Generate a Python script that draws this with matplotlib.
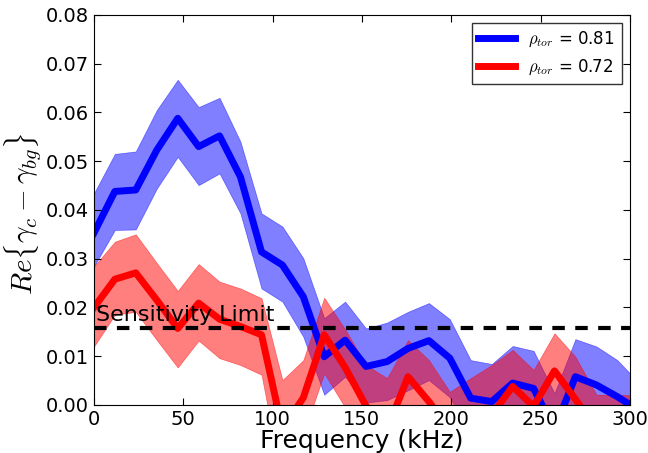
import matplotlib
matplotlib.use('Agg')
import matplotlib.pyplot as plt

plt.rcParams['mathtext.fontset'] = 'cm'

freq = [0.0, 11.7, 23.4, 35.2, 46.9, 58.6, 70.3, 82.0, 93.8, 105.5, 117.2, 128.9, 140.6,
        152.3, 164.1, 175.8, 187.5, 199.2, 210.9, 222.7, 234.4, 246.1, 257.8, 269.5,
        281.3, 293.0, 304.7]

blue_mid = [0.0353, 0.0438, 0.0441, 0.0523, 0.0588, 0.0530, 0.0552, 0.0468, 0.0314, 0.0287,
            0.0222, 0.0099, 0.0133, 0.0079, 0.0089, 0.0116, 0.0132, 0.0096, 0.0014, 0.0007,
            0.0045, 0.0034, -0.0050, 0.0058, 0.0041, 0.0017, -0.0010]
blue_hi = [0.0434, 0.0515, 0.0520, 0.0605, 0.0667, 0.0611, 0.0630, 0.0540, 0.0393, 0.0366,
           0.0301, 0.0178, 0.0212, 0.0157, 0.0169, 0.0191, 0.0209, 0.0176, 0.0092, 0.0084,
           0.0121, 0.0111, 0.0024, 0.0135, 0.0120, 0.0092, 0.0047]
blue_lo = [0.0284, 0.0359, 0.0360, 0.0444, 0.0509, 0.0451, 0.0475, 0.0393, 0.0239, 0.0212,
           0.0140, 0.0021, 0.0058, 0.0005, 0.0010, 0.0030, 0.0051, 0.0016, -0.0060, -0.0070,
           -0.0030, -0.0040, -0.0120, -0.0020, -0.0040, -0.0060, -0.0080]

red_mid = [0.0200, 0.0258, 0.0271, 0.0215, 0.0157, 0.0209, 0.0176, 0.0161, 0.0144, -0.0050,
           0.0015, 0.0144, 0.0077, -0.0002, -0.0050, 0.0058, 0.0007, -0.0050, -0.0080, -0.0020,
           0.0038, -0.0003, 0.0070, 0.0012, -0.0050, -0.0060, -0.0060]
red_hi = [0.0284, 0.0335, 0.0350, 0.0291, 0.0234, 0.0289, 0.0253, 0.0239, 0.0219, 0.0051,
          0.0092, 0.0220, 0.0155, 0.0082, 0.0055, 0.0133, 0.0092, 0.0027, 0.0055, 0.0082,
          0.0113, 0.0072, 0.0147, 0.0099, 0.0021, 0.0021, 0.0020]
red_lo = [0.0120, 0.0185, 0.0191, 0.0133, 0.0077, 0.0132, 0.0096, 0.0082, 0.0062, -0.0160,
          -0.0060, 0.0065, -0.0005, -0.0070, -0.0140, -0.0020, -0.0020, -0.0080, -0.0100,
          -0.0100, -0.0080, -0.0100, -0.0050, -0.0080, -0.0120, -0.0120, -0.0120]

sens_limit = 0.0157

fig = plt.figure(figsize=(6.48, 4.53), dpi=100)
ax = fig.add_axes([0.145, 0.106, 0.827, 0.861])

ax.fill_between(freq, blue_lo, blue_hi, color='blue', alpha=0.5, linewidth=0.5)
ax.fill_between(freq, red_lo, red_hi, color='red', alpha=0.5, linewidth=0.5)
ax.plot(freq, blue_mid, color='blue', linewidth=5, label=r'$\rho_{tor}$ = 0.81')
ax.plot(freq, red_mid, color='red', linewidth=5, label=r'$\rho_{tor}$ = 0.72')

ax.axhline(sens_limit, color='black', linestyle='--', linewidth=3, dashes=(3, 2.5))
ax.text(1, sens_limit + 0.0016, 'Sensitivity Limit', fontsize=16)

ax.set_xlim(0, 300)
ax.set_ylim(0, 0.08)
ax.set_xticks(range(0, 301, 50))
ax.set_yticks([i * 0.01 for i in range(9)])
ax.set_yticklabels(['%.2f' % (i * 0.01) for i in range(9)])
ax.tick_params(direction='in', top=True, right=True, labelsize=14, length=5)

ax.set_xlabel('Frequency (kHz)', fontsize=18, labelpad=0)
ax.set_ylabel(r'$Re\{\gamma_c - \gamma_{bg}\}$', fontsize=21)
ax.yaxis.set_label_coords(-0.095, 0.49)

leg = ax.legend(loc='upper right', fontsize=12, fancybox=False, handlelength=2.2)
leg.get_frame().set_edgecolor('black')

plt.savefig('out.png', dpi=100)
